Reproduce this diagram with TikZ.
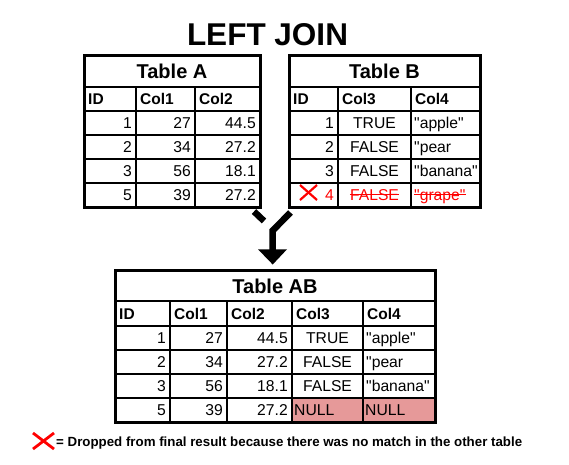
\documentclass[tikz,border=0pt]{standalone}
\usepackage{fontspec}
\setmainfont{Liberation Sans}[Ligatures=TeXOff]
\begin{document}
\begin{tikzpicture}[x=1pt,y=-1pt,
  txt/.style={inner sep=0pt,font=\fontsize{15.7}{18}\selectfont},
  hdr/.style={inner sep=0pt,font=\fontsize{15.5}{18}\selectfont\bfseries},
  ttl/.style={inner sep=0pt,font=\fontsize{20}{24}\selectfont\bfseries},
  thin/.style={line width=1.1pt,black},
  outer/.style={line width=3pt,black,line join=miter},
  dropped/.style={txt,text=red},
  strike/.style={red,line width=1.2pt},
  cross/.style={red,line width=2.2pt},
  bigarrow/.style={line width=6.5pt,black,line join=miter}
]
\definecolor{nullred}{RGB}{230,153,153}
\useasboundingbox[fill=white] (0,0) rectangle (569,464);

% heading
\node[inner sep=0pt,font=\fontsize{31.5}{36}\selectfont\bfseries,anchor=base] (join) at (267.5,45) {LEFT JOIN};

% ---------------- Table A ----------------
\foreach \y in {87,111,135,159,183} \draw[thin] (84,\y) -- (260,\y);
\foreach \x in {136,195} \draw[thin] (\x,87) -- (\x,207);
\draw[outer] (84,55) rectangle (260,207);
\node[ttl,anchor=base] (ta) at (172,78.5) {Table A};
\node[hdr,anchor=base west] (ta-h1) at (88,104.5) {ID};
\node[hdr,anchor=base west] (ta-h2) at (140,104.5) {Col1};
\node[hdr,anchor=base west] (ta-h3) at (199,104.5) {Col2};
\foreach \r/\id/\a/\b [count=\i] in {1/1/27/44.5,2/2/34/27.2,3/3/56/18.1,4/5/39/27.2}{
  \pgfmathsetmacro\yb{135+24*(\r-1)-7}
  \node[txt,anchor=base east] (ta-\i-1) at (132,\yb) {\id};
  \node[txt,anchor=base east] (ta-\i-2) at (191,\yb) {\a};
  \node[txt,anchor=base east] (ta-\i-3) at (256,\yb) {\b};
}

% ---------------- Table B ----------------
\foreach \y in {87,111,135,159,183} \draw[thin] (289,\y) -- (480,\y);
\foreach \x in {338,411} \draw[thin] (\x,87) -- (\x,207);
\draw[outer] (289,55) rectangle (480,207);
\node[ttl,anchor=base] (tb) at (384.5,78.5) {Table B};
\node[hdr,anchor=base west] (tb-h1) at (293,104.5) {ID};
\node[hdr,anchor=base west] (tb-h2) at (342,104.5) {Col3};
\node[hdr,anchor=base west] (tb-h3) at (415,104.5) {Col4};
\foreach \r/\id/\c/\d [count=\i] in {1/1/TRUE/"apple",2/2/FALSE/"pear,3/3/FALSE/"banana"}{
  \pgfmathsetmacro\yb{135+24*(\r-1)-7}
  \node[txt,anchor=base east] (tb-\i-1) at (334,\yb) {\id};
  \node[txt,anchor=base] (tb-\i-2) at (374.5,\yb) {\c};
  \node[txt,anchor=base west] (tb-\i-3) at (414,\yb) {\d};
}
% row without a match: struck out in red
\node[dropped,anchor=base east] (tb-4-1) at (334,200) {4};
\node[dropped,anchor=base] (tb-4-2) at (374.5,200) {FALSE};
\node[dropped,anchor=base west] (tb-4-3) at (414,200) {"grape"};
\draw[strike] ([yshift=5.5pt]tb-4-2.base west) -- ([yshift=5.5pt]tb-4-2.base east);
\draw[strike] ([yshift=5.5pt]tb-4-3.base west) -- ([yshift=5.5pt]tb-4-3.base east);
\coordinate (xb1) at (300,185); \coordinate (xb2) at (317,200);
\coordinate (xb3) at (300,200); \coordinate (xb4) at (317,185);
\draw[cross] (xb1) -- (xb2);
\draw[cross] (xb3) -- (xb4);

% ---------------- merge arrow ----------------
\coordinate (la1) at (254,211.5); \coordinate (la2) at (264,221);
\coordinate (ra1) at (290.5,212.5); \coordinate (ra2) at (272.7,230.5);
\coordinate (stem) at (272.7,250);
\draw[bigarrow] (la1) -- (la2);
\draw[bigarrow] (ra1) -- (ra2) -- (stem);
\coordinate (hd1) at (258,249.3); \coordinate (hd2) at (287,249.3);
\coordinate (tip) at (272.7,264.5);
\fill[black] (hd1) -- (hd2) -- (tip) -- cycle;

% ---------------- Table AB ----------------
\fill[nullred] (292,398) rectangle (435,422);
\foreach \y in {301,326,350,374,398} \draw[thin] (115,\y) -- (435,\y);
\foreach \x in {170,227,292,363} \draw[thin] (\x,301) -- (\x,422);
\draw[outer] (115,270) rectangle (435,422);
\node[ttl,anchor=base] (tab) at (275,293.3) {Table AB};
\node[hdr,anchor=base west] (tab-h1) at (119,319.5) {ID};
\node[hdr,anchor=base west] (tab-h2) at (174,319.5) {Col1};
\node[hdr,anchor=base west] (tab-h3) at (231,319.5) {Col2};
\node[hdr,anchor=base west] (tab-h4) at (296,319.5) {Col3};
\node[hdr,anchor=base west] (tab-h5) at (367,319.5) {Col4};
\foreach \r/\id/\a/\b/\c/\d [count=\i] in {1/1/27/44.5/TRUE/"apple",2/2/34/27.2/FALSE/"pear,3/3/56/18.1/FALSE/"banana"}{
  \pgfmathsetmacro\yb{350+24*(\r-1)-7}
  \node[txt,anchor=base east] (tab-\i-1) at (166,\yb) {\id};
  \node[txt,anchor=base east] (tab-\i-2) at (223,\yb) {\a};
  \node[txt,anchor=base east] (tab-\i-3) at (288,\yb) {\b};
  \node[txt,anchor=base] (tab-\i-4) at (327.5,\yb) {\c};
  \node[txt,anchor=base west] (tab-\i-5) at (366,\yb) {\d};
}
\node[txt,anchor=base east] (tab-4-1) at (166,415) {5};
\node[txt,anchor=base east] (tab-4-2) at (223,415) {39};
\node[txt,anchor=base east] (tab-4-3) at (288,415) {27.2};
\node[txt,anchor=base west] (tab-4-4) at (294,415) {NULL};
\node[txt,anchor=base west] (tab-4-5) at (365,415) {NULL};

% ---------------- legend ----------------
\coordinate (xl1) at (33,433); \coordinate (xl2) at (54,449);
\coordinate (xl3) at (33,449); \coordinate (xl4) at (54,433);
\draw[red,line width=2.8pt] (xl1) -- (xl2);
\draw[red,line width=2.8pt] (xl3) -- (xl4);
\node[inner sep=0pt,font=\fontsize{13.3}{16}\selectfont\bfseries,anchor=base west] (legend) at (56,446.7)
  {= Dropped from final result because there was no match in the other table};
\end{tikzpicture}
\end{document}
